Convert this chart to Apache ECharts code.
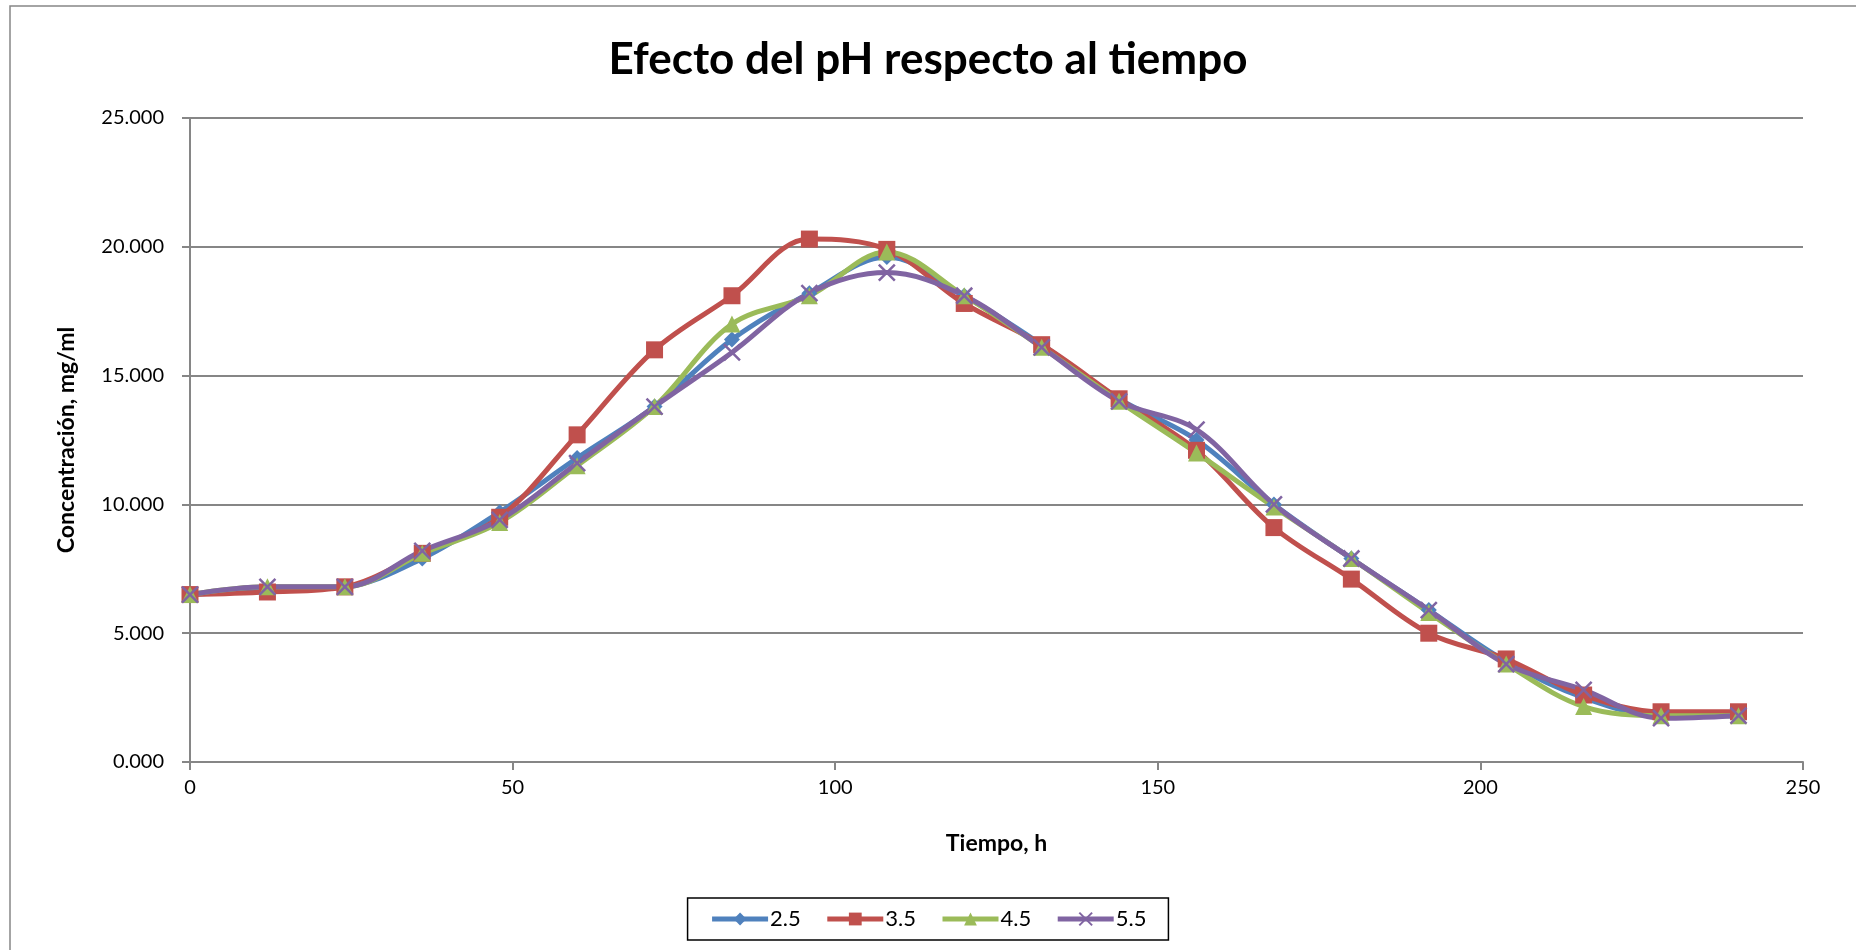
<!DOCTYPE html>
<html>
<head>
<meta charset="utf-8">
<script src="https://cdn.jsdelivr.net/npm/echarts@6/dist/echarts.min.js"></script>
<style>
  html, body { margin: 0; padding: 0; background: #fff; }
  #chart { width: 1856px; height: 950px; }
</style>
</head>
<body>
<div id="chart"></div>
<script>
// Sampling times (h)
const hours = [0, 12, 24, 36, 48, 60, 72, 84, 96, 108, 120, 132, 144, 156, 168, 180, 192, 204, 216, 228, 240];

// Concentration (mg/ml) at each pH
const ph25 = [6.5, 6.7, 6.8, 7.9, 9.7, 11.8, 13.8, 16.4, 18.2, 19.6, 18.1, 16.2, 14.1, 12.5, 10.0, 7.9, 5.9, 3.9, 2.5, 1.8, 1.8];
const ph35 = [6.5, 6.6, 6.8, 8.1, 9.5, 12.7, 16.0, 18.1, 20.3, 19.9, 17.8, 16.2, 14.1, 12.1, 9.1, 7.1, 5.0, 4.0, 2.6, 1.95, 1.95];
const ph45 = [6.5, 6.8, 6.8, 8.1, 9.3, 11.5, 13.8, 17.0, 18.1, 19.8, 18.1, 16.1, 14.0, 12.0, 9.9, 7.9, 5.8, 3.8, 2.15, 1.8, 1.8];
const ph55 = [6.5, 6.8, 6.8, 8.2, 9.4, 11.6, 13.8, 15.9, 18.2, 19.0, 18.1, 16.1, 14.0, 12.9, 10.0, 7.9, 5.9, 3.8, 2.8, 1.7, 1.8];

const seriesNames = ['2.5', '3.5', '4.5', '5.5'];
const titleText = 'Efecto del pH respecto al tiempo';
const xAxisName = 'Tiempo, h';
const yAxisName = 'Concentración, mg/ml';

const colors = ['#4F81BD', '#C0504D', '#9BBB59', '#8064A2'];
const symbols = ['diamond', 'rect', 'triangle', 'path://M0,0 L10,10 M10,0 L0,10'];
const symbolSizes = [16, 17, 17, 16];

const toPairs = arr => hours.map((h, i) => [h, arr[i]]);
const allData = [ph25, ph35, ph45, ph55];

const FONT = 'Lato, "Open Sans", sans-serif';

const chart = echarts.init(document.getElementById('chart'), null, { renderer: 'canvas' });

chart.setOption({
  animation: false,
  backgroundColor: '#fff',
  color: colors,
  title: {
    text: titleText,
    left: 'center',
    top: 33,
    textStyle: { fontFamily: FONT, fontWeight: 'bold', fontSize: 44, color: '#000' }
  },
  graphic: [{
    type: 'rect',
    shape: { x: 10, y: 6, width: 1900, height: 1000 },
    style: { fill: 'none', stroke: '#868686', lineWidth: 1.5 },
    silent: true
  }],
  legend: {
    bottom: 10,
    left: 'center',
    itemWidth: 56,
    itemHeight: 16,
    itemGap: 24,
    padding: [10, 22, 10, 22],
    borderColor: '#000',
    borderWidth: 1.5,
    lineStyle: { width: 5 },
    textStyle: { fontFamily: FONT, fontSize: 22, color: '#000', padding: [0, 0, 0, -3] },
    data: seriesNames
  },
  grid: { left: 190, right: 53, top: 118, bottom: 188, containLabel: false },
  xAxis: {
    type: 'value',
    min: 0, max: 250, interval: 50,
    name: xAxisName,
    nameLocation: 'middle',
    nameGap: 70,
    nameTextStyle: { fontFamily: FONT, fontWeight: 'bold', fontSize: 23, color: '#000' },
    axisLine: { show: true, lineStyle: { color: '#868686', width: 2 } },
    axisTick: { show: true, length: 8, lineStyle: { color: '#868686', width: 2 } },
    axisLabel: { fontFamily: FONT, fontSize: 20, color: '#000', margin: 16 },
    splitLine: { show: false }
  },
  yAxis: {
    type: 'value',
    min: 0, max: 25, interval: 5,
    name: yAxisName,
    nameLocation: 'middle',
    nameGap: 112,
    nameTextStyle: { fontFamily: FONT, fontWeight: 'bold', fontSize: 23, color: '#000' },
    axisLine: { show: true, lineStyle: { color: '#868686', width: 2 } },
    axisTick: { show: true, length: 8, lineStyle: { color: '#868686', width: 2 } },
    axisLabel: { fontFamily: FONT, fontSize: 20, color: '#000', margin: 26, formatter: v => v.toFixed(3) },
    splitLine: { show: true, lineStyle: { color: '#868686', width: 2 } }
  },
  series: seriesNames.map((name, i) => ({
    name,
    type: 'line',
    data: toPairs(allData[i]),
    smooth: 0.35,
    symbol: symbols[i],
    symbolSize: symbolSizes[i],
    showAllSymbol: true,
    lineStyle: { color: colors[i], width: 5 },
    itemStyle: {
      color: colors[i],
      borderColor: colors[i],
      borderWidth: i === 3 ? 2.5 : 0
    },
    emphasis: { disabled: true }
  }))
});
</script>
</body>
</html>
